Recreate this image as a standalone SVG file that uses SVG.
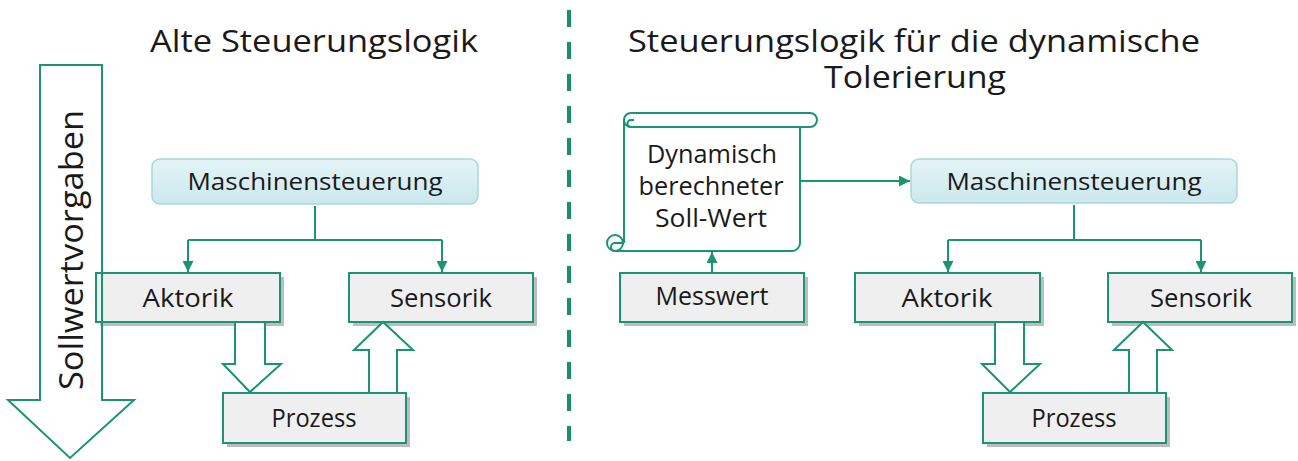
<svg xmlns="http://www.w3.org/2000/svg" width="1298" height="461" viewBox="0 0 1298 461">
<style>
text{font-family:"Open Sans","Liberation Sans",sans-serif;fill:#1a1a1a;text-anchor:middle}
.title{font-size:31px}
.lbl{font-size:25px}
.ms{font-size:23px}
.box{fill:#efefef;stroke:#1b9474;stroke-width:2}
.shadow{fill:#bdbdbd}
.ctl{fill:url(#cyan);stroke:#a9d7d8;stroke-width:1.5}
.line{fill:none;stroke:#1b9474;stroke-width:2}
.block{fill:#fff;stroke:#1b9474;stroke-width:2;stroke-linejoin:miter}
</style>
<defs>
<linearGradient id="cyan" x1="0" y1="0" x2="0" y2="1">
<stop offset="0" stop-color="#e4f4f6"/>
<stop offset="1" stop-color="#cbe8ee"/>
</linearGradient>
<marker id="ah" viewBox="0 0 10 10" refX="10" refY="5" markerWidth="5.5" markerHeight="5.5" orient="auto" markerUnits="strokeWidth">
<path d="M0,0 L10,5 L0,10 Z" fill="#1b9474"/>
</marker>
</defs>

<g id="titles">
<text class="title" x="314" y="52" textLength="328" lengthAdjust="spacingAndGlyphs">Alte Steuerungslogik</text>
<text class="title" x="914" y="52" textLength="572" lengthAdjust="spacingAndGlyphs">Steuerungslogik für die dynamische</text>
<text class="title" x="915" y="88" textLength="182" lengthAdjust="spacingAndGlyphs">Tolerierung</text>
</g>

<g id="divider">
<line x1="569" y1="10" x2="569" y2="441" stroke="#16916b" stroke-width="4" stroke-dasharray="17 15"/>
</g>

<g id="ctrl-left">
<rect class="ctl" x="152" y="159" width="326" height="45" rx="8"/>
<text class="ms" x="315" y="190" textLength="255" lengthAdjust="spacingAndGlyphs">Maschinensteuerung</text>
</g>
<g id="aktorik-left">
<rect class="shadow" x="100" y="277" width="184" height="49"/>
<rect class="box" x="96" y="273" width="184" height="49"/>
<text class="lbl" x="188" y="307" textLength="91" lengthAdjust="spacingAndGlyphs">Aktorik</text>
</g>
<g id="sensorik-left">
<rect class="shadow" x="353" y="277" width="184" height="49"/>
<rect class="box" x="349" y="273" width="184" height="49"/>
<text class="lbl" x="441" y="307" textLength="102" lengthAdjust="spacingAndGlyphs">Sensorik</text>
</g>
<g id="prozess-left">
<rect class="shadow" x="227" y="397" width="183" height="50"/>
<rect class="box" x="223" y="393" width="183" height="50"/>
<text class="lbl" x="314" y="427" textLength="85" lengthAdjust="spacingAndGlyphs">Prozess</text>
</g>

<g id="sollwert">
<polygon class="block" style="fill:none" points="40,65 102,65 102,400 134,400 70,458 8,400 40,400"/>
<text class="title" style="font-size:33px" transform="translate(83,250) rotate(-90)" x="0" y="0" textLength="280" lengthAdjust="spacingAndGlyphs">Sollwertvorgaben</text>
</g>

<g id="scroll">
<path d="M624,120 V243 H800 V127 H624 Z" fill="#fff" stroke="none"/>
<path d="M624,120 V243 M800,127 V243 A8,8 0 0 1 792,251 H615" fill="none" stroke="#1b9474" stroke-width="2"/>
<path d="M631,113 H810 A7,7 0 0 1 810,127 H631 A7,7 0 0 1 631,113 Z" fill="#fff" stroke="#1b9474" stroke-width="2"/>
<path d="M631,127 A3.5,3.5 0 0 1 631,120 H634" fill="none" stroke="#1b9474" stroke-width="2"/>
<circle cx="615" cy="243" r="8" fill="#fff" stroke="#1b9474" stroke-width="2"/>
<path d="M615,251 A4,4 0 0 1 615,243 H624" fill="none" stroke="#1b9474" stroke-width="2"/>
<text class="lbl" x="712" y="163" textLength="130" lengthAdjust="spacingAndGlyphs">Dynamisch</text>
<text class="lbl" x="711" y="195" textLength="145" lengthAdjust="spacingAndGlyphs">berechneter</text>
<text class="lbl" x="711" y="227" textLength="112" lengthAdjust="spacingAndGlyphs">Soll-Wert</text>
</g>
<g id="messwert">
<rect class="shadow" x="624" y="277" width="184" height="49"/>
<rect class="box" x="620" y="273" width="184" height="49"/>
<text class="lbl" x="712" y="305" textLength="113" lengthAdjust="spacingAndGlyphs">Messwert</text>
</g>

<g id="ctrl-right">
<rect class="ctl" x="911" y="159" width="326" height="44" rx="8"/>
<text class="ms" x="1074" y="190" textLength="255" lengthAdjust="spacingAndGlyphs">Maschinensteuerung</text>
</g>
<g id="aktorik-right">
<rect class="shadow" x="859" y="277" width="185" height="49"/>
<rect class="box" x="855" y="273" width="185" height="49"/>
<text class="lbl" x="947" y="307" textLength="91" lengthAdjust="spacingAndGlyphs">Aktorik</text>
</g>
<g id="sensorik-right">
<rect class="shadow" x="1112" y="277" width="184" height="49"/>
<rect class="box" x="1108" y="273" width="184" height="49"/>
<text class="lbl" x="1201" y="307" textLength="102" lengthAdjust="spacingAndGlyphs">Sensorik</text>
</g>
<g id="prozess-right">
<rect class="shadow" x="987" y="397" width="183" height="50"/>
<rect class="box" x="983" y="393" width="183" height="50"/>
<text class="lbl" x="1074" y="427" textLength="85" lengthAdjust="spacingAndGlyphs">Prozess</text>
</g>

<g id="connectors">
<path class="line" d="M315,206 V240"/>
<path class="line" d="M188,240 H442"/>
<path class="line" d="M188,240 V272" marker-end="url(#ah)"/>
<path class="line" d="M442,240 V272" marker-end="url(#ah)"/>
<polygon class="block" points="235,322 265,322 265,364 281,364 250,392 223,364 235,364"/>
<polygon class="block" points="369,393 397,393 397,350 413,350 383,322 354,350 369,350"/>

<path class="line" d="M800,181 H910" marker-end="url(#ah)"/>
<path class="line" d="M712,273 V252" marker-end="url(#ah)"/>

<path class="line" d="M1074,205 V240"/>
<path class="line" d="M948,240 H1201"/>
<path class="line" d="M948,240 V272" marker-end="url(#ah)"/>
<path class="line" d="M1201,240 V272" marker-end="url(#ah)"/>
<polygon class="block" points="995,322 1024,322 1024,364 1040,364 1010,392 982,364 995,364"/>
<polygon class="block" points="1129,393 1157,393 1157,350 1172,350 1143,322 1114,350 1129,350"/>
</g>
</svg>
